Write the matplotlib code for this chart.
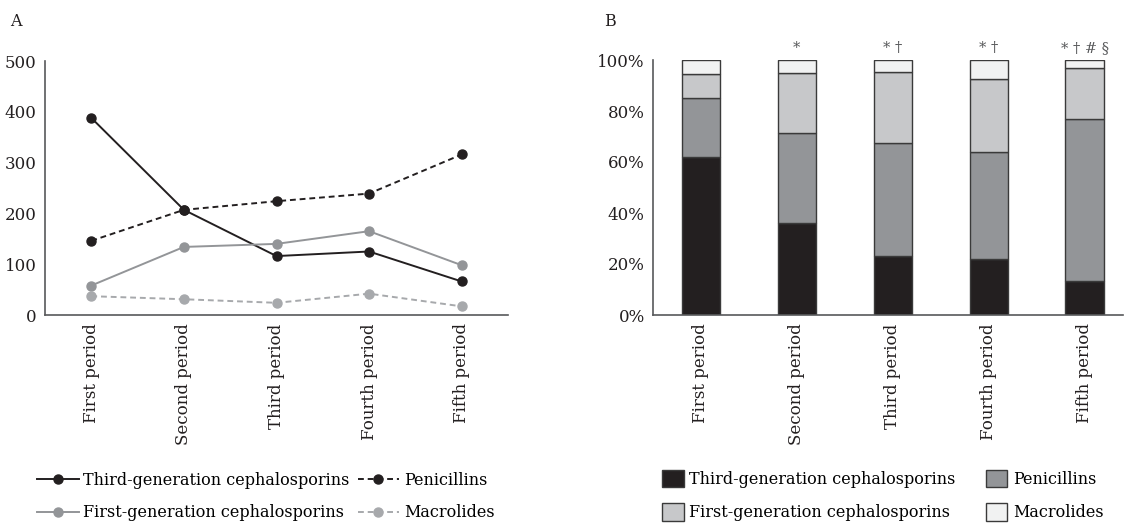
import matplotlib.pyplot as plt
import numpy as np

plt.rcParams['font.family'] = ['DejaVu Serif']
plt.rcParams['font.size'] = 12

periods = ['First period', 'Second period', 'Third period', 'Fourth period', 'Fifth period']

# panel A: counts
third_gen = [388, 207, 116, 125, 66]
penicillins = [146, 207, 224, 239, 316]
first_gen = [58, 134, 140, 165, 98]
macrolides = [37, 31, 24, 42, 17]

# panel B: shares (%)
third_gen_pct = [62.0, 35.9, 23.1, 22.0, 13.3]
penicillins_pct = [23.0, 35.6, 44.2, 41.8, 63.4]
first_gen_pct = [9.4, 23.3, 28.0, 28.9, 20.0]
macrolides_pct = [5.6, 5.2, 4.7, 7.3, 3.3]
marks = ['', '*', '* \u2020', '* \u2020', '* \u2020 # \u00a7']

black = '#231f20'
dgray = '#939598'
lgray = '#c7c8ca'
wgray = '#f1f2f2'
txt = '#231f20'

fig = plt.figure(figsize=(11.43, 5.24), dpi=100)
axA = fig.add_axes([45/1143, 1-315/524, 463/1143, 254/524])
axB = fig.add_axes([653/1143, 1-315/524, 470/1143, 255/524])

x = np.arange(len(periods))

lA1, = axA.plot(x, third_gen, '-o', color=black, lw=1.4, ms=6.5)
lA2, = axA.plot(x, penicillins, '--o', color=black, lw=1.4, ms=6.5, dashes=(3, 2))
lA3, = axA.plot(x, first_gen, '-o', color=dgray, lw=1.4, ms=6.5)
lA4, = axA.plot(x, macrolides, '--o', color='#a7a9ac', lw=1.4, ms=6.5, dashes=(3, 2))
axA.set_ylim(0, 500)
axA.set_xlim(-0.5, 4.5)
axA.set_yticks([0, 100, 200, 300, 400, 500])

bars = []
bottom = np.zeros(5)
for vals, col in [(third_gen_pct, black), (penicillins_pct, dgray),
                  (first_gen_pct, lgray), (macrolides_pct, wgray)]:
    b = axB.bar(x, vals, 0.4, bottom=bottom, color=col, edgecolor='#3a3a3a', lw=1)
    bars.append(b)
    bottom += np.array(vals)
axB.set_ylim(0, 100)
axB.set_xlim(-0.5, 4.4)
axB.set_yticks([0, 20, 40, 60, 80, 100])
axB.set_yticklabels(['%d%%' % v for v in [0, 20, 40, 60, 80, 100]])
for i, m in enumerate(marks):
    axB.text(i, 102, m, ha='center', va='bottom', fontsize=10.5, color='#58595b')

for ax in (axA, axB):
    for s in ('top', 'right'):
        ax.spines[s].set_visible(False)
    ax.spines['left'].set_color('#58595b')
    ax.spines['bottom'].set_color('#58595b')
    ax.spines['left'].set_linewidth(1.2)
    ax.spines['bottom'].set_linewidth(1.2)
    ax.set_xticks(x)
    ax.set_xticklabels(periods, rotation=90, color=txt)
    ax.tick_params(length=0, pad=6, colors=txt)

fig.text(10/1143, 1-22/524, 'A', fontsize=11.5, va='center', color=txt)
fig.text(604/1143, 1-22/524, 'B', fontsize=11.5, va='center', color=txt)

# legends (column-wise fill, so order gives rows: third/pen, first/mac)
labs = ['Third-generation cephalosporins', 'First-generation cephalosporins',
        'Penicillins', 'Macrolides']
fig.legend([lA1, lA3, lA2, lA4], labs, ncol=2, frameon=False, loc='upper left',
           bbox_to_anchor=(37/1143, 1-472/524), handlelength=2.6,
           handletextpad=0.3, columnspacing=0.5, labelspacing=0.95,
           borderaxespad=0, borderpad=0, fontsize=11.5)
fig.legend([bars[0], bars[2], bars[1], bars[3]], labs, ncol=2, frameon=False,
           loc='upper left', bbox_to_anchor=(662/1143, 1-470/524), handlelength=1.35,
           handleheight=1.3, handletextpad=0.35, columnspacing=1.9,
           labelspacing=0.95, borderaxespad=0, borderpad=0, fontsize=11.5)

fig.savefig('out.png', dpi=100)
